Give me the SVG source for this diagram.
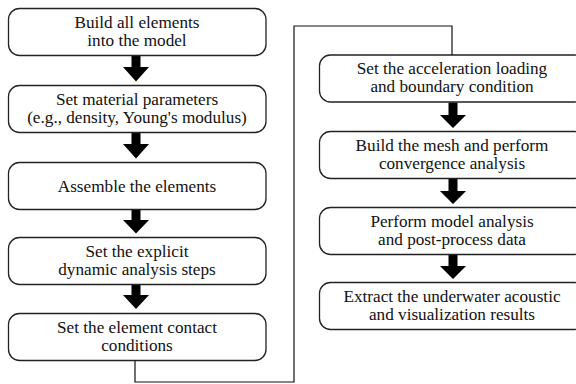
<svg xmlns="http://www.w3.org/2000/svg" width="576" height="384" viewBox="0 0 576 384">
<style>
.box{fill:#fff;stroke:#222;stroke-width:1.3}
.t{font-family:'Liberation Serif','DejaVu Serif',serif;font-size:17.2px;fill:#111;text-anchor:middle}
.arr{fill:#000}
.con{fill:none;stroke:#111;stroke-width:1.2}
</style>
<rect width="576" height="384" fill="#fff"/>
<g id="connectors">
<path class="con" d="M135,360 V382 H294 V26 H452 V55"/>
<polygon class="arr" points="131.5,56 140.5,56 140.5,67 149,67 136,81.5 123,67 131.5,67"/>
<polygon class="arr" points="131.5,133 140.5,133 140.5,144 149,144 136,158.5 123,144 131.5,144"/>
<polygon class="arr" points="131.5,210 140.5,210 140.5,220 149,220 136,233.5 123,220 131.5,220"/>
<polygon class="arr" points="131.5,285 140.5,285 140.5,295 149,295 136,309 123,295 131.5,295"/>
<polygon class="arr" points="448.5,102.5 457.5,102.5 457.5,115 466,115 453,128 440,115 448.5,115"/>
<polygon class="arr" points="448.5,179 457.5,179 457.5,191 466,191 453,204 440,191 448.5,191"/>
<polygon class="arr" points="448.5,254.5 457.5,254.5 457.5,266 466,266 453,279 440,266 448.5,266"/>
</g>
<g id="n1"><rect class="box" x="8.5" y="8.5" width="257.5" height="47" rx="11"/>
<text class="t" x="137" y="27.5" font-family="Liberation Serif, serif">Build all elements</text><text class="t" x="137" y="45.5" font-family="Liberation Serif, serif">into the model</text></g>
<g id="n2"><rect class="box" x="8.5" y="85.5" width="257.5" height="47" rx="11"/>
<text class="t" x="137" y="104.5" font-family="Liberation Serif, serif">Set material parameters</text><text class="t" x="137" y="122.5" font-family="Liberation Serif, serif">(e.g., density, Young's modulus)</text></g>
<g id="n3"><rect class="box" x="8.5" y="162.5" width="257.5" height="47" rx="11"/>
<text class="t" x="137" y="192" font-family="Liberation Serif, serif">Assemble the elements</text></g>
<g id="n4"><rect class="box" x="8.5" y="237.5" width="257.5" height="47" rx="11"/>
<text class="t" x="137" y="256.5" font-family="Liberation Serif, serif">Set the explicit</text><text class="t" x="137" y="274.5" font-family="Liberation Serif, serif">dynamic analysis steps</text></g>
<g id="n5"><rect class="box" x="8.5" y="313.5" width="257.5" height="47" rx="11"/>
<text class="t" x="137" y="332.5" font-family="Liberation Serif, serif">Set the element contact</text><text class="t" x="137" y="350.5" font-family="Liberation Serif, serif">conditions</text></g>
<g id="n6"><rect class="box" x="319.5" y="55" width="266" height="47" rx="11"/>
<text class="t" x="452" y="74" font-family="Liberation Serif, serif">Set the acceleration loading</text><text class="t" x="452" y="92" font-family="Liberation Serif, serif">and boundary condition</text></g>
<g id="n7"><rect class="box" x="319.5" y="131.5" width="266" height="47" rx="11"/>
<text class="t" x="452" y="150.5" font-family="Liberation Serif, serif">Build the mesh and perform</text><text class="t" x="452" y="168.5" font-family="Liberation Serif, serif">convergence analysis</text></g>
<g id="n8"><rect class="box" x="319.5" y="207.5" width="266" height="47" rx="11"/>
<text class="t" x="452" y="226.5" font-family="Liberation Serif, serif">Perform model analysis</text><text class="t" x="452" y="244.5" font-family="Liberation Serif, serif">and post-process data</text></g>
<g id="n9"><rect class="box" x="319.5" y="282.5" width="266" height="47" rx="11"/>
<text class="t" x="452" y="301.5" font-family="Liberation Serif, serif">Extract the underwater acoustic</text><text class="t" x="452" y="319.5" font-family="Liberation Serif, serif">and visualization results</text></g>
</svg>
